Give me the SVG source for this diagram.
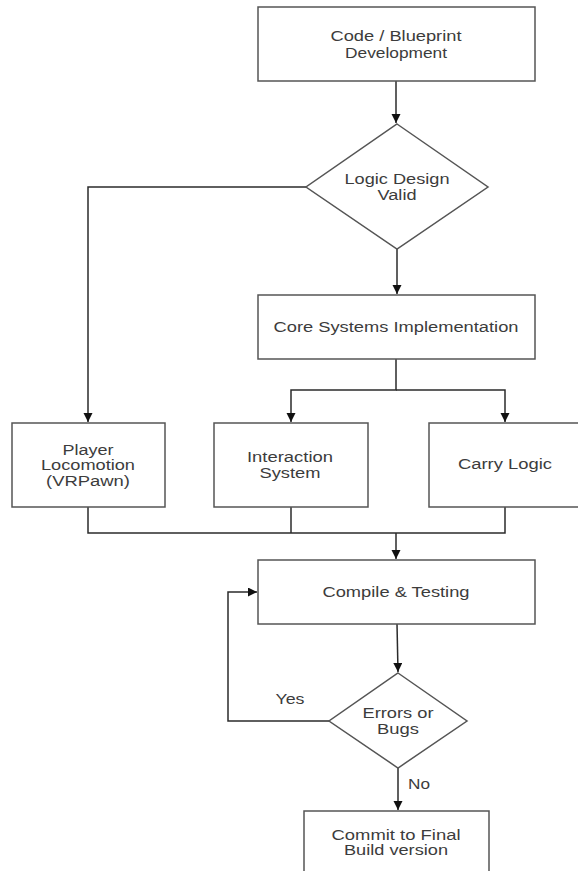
<svg xmlns="http://www.w3.org/2000/svg" width="578" height="871" viewBox="0 0 578 871">
<style>
.box{fill:#fff;stroke:#555;stroke-width:1.5}
.conn{fill:none;stroke:#2b2b2b;stroke-width:1.5}
.t{font-family:"Liberation Sans",Arial,sans-serif;font-size:14px;fill:#3c3c3c;text-anchor:middle;lengthAdjust:spacingAndGlyphs}
</style>
<defs>
<marker id="arr" markerUnits="userSpaceOnUse" markerWidth="10" markerHeight="10" refX="9" refY="4.5" orient="auto">
<path d="M0,0 L9,4.5 L0,9 z" fill="#111"/>
</marker>
</defs>
<rect width="578" height="871" fill="#fff"/>
<g id="connectors">
<path class="conn" d="M396,81 V123" marker-end="url(#arr)"/>
<path class="conn" d="M306,187 H88 V422" marker-end="url(#arr)"/>
<path class="conn" d="M397,249 V294" marker-end="url(#arr)"/>
<path class="conn" d="M396,359 V390 H291 V422" marker-end="url(#arr)"/>
<path class="conn" d="M396,390 H505 V422" marker-end="url(#arr)"/>
<path class="conn" d="M88,507 V533 H505 V507"/>
<path class="conn" d="M291,507 V533"/>
<path class="conn" d="M396,533 V559" marker-end="url(#arr)"/>
<path class="conn" d="M397,624 L398,672" marker-end="url(#arr)"/>
<path class="conn" d="M329,721 H228 V592 H257" marker-end="url(#arr)"/>
<path class="conn" d="M398,768 V810" marker-end="url(#arr)"/>
</g>
<g id="code-dev">
<rect class="box" x="258" y="7" width="277" height="74"/>
<text class="t" x="396" y="41" textLength="131" lengthAdjust="spacingAndGlyphs">Code / Blueprint</text>
<text class="t" x="396" y="58" textLength="102" lengthAdjust="spacingAndGlyphs">Development</text>
</g>
<g id="logic-valid">
<polygon class="box" points="397,124 488,187 397,249 306,187"/>
<text class="t" x="397" y="184" textLength="105" lengthAdjust="spacingAndGlyphs">Logic Design</text>
<text class="t" x="397" y="200" textLength="39" lengthAdjust="spacingAndGlyphs">Valid</text>
</g>
<g id="core-systems">
<rect class="box" x="258" y="295" width="277" height="64"/>
<text class="t" x="396" y="332" textLength="245" lengthAdjust="spacingAndGlyphs">Core Systems Implementation</text>
</g>
<g id="player-locomotion">
<rect class="box" x="12" y="423" width="153" height="84"/>
<text class="t" x="88" y="455" textLength="51" lengthAdjust="spacingAndGlyphs">Player</text>
<text class="t" x="88" y="470" textLength="94" lengthAdjust="spacingAndGlyphs">Locomotion</text>
<text class="t" x="88" y="486" textLength="84" lengthAdjust="spacingAndGlyphs">(VRPawn)</text>
</g>
<g id="interaction-system">
<rect class="box" x="214" y="423" width="154" height="84"/>
<text class="t" x="290" y="462" textLength="86" lengthAdjust="spacingAndGlyphs">Interaction</text>
<text class="t" x="290" y="478" textLength="61" lengthAdjust="spacingAndGlyphs">System</text>
</g>
<g id="carry-logic">
<rect class="box" x="429" y="423" width="165" height="84"/>
<text class="t" x="505" y="469" textLength="94" lengthAdjust="spacingAndGlyphs">Carry Logic</text>
</g>
<g id="compile-testing">
<rect class="box" x="258" y="560" width="277" height="64"/>
<text class="t" x="396" y="597" textLength="147" lengthAdjust="spacingAndGlyphs">Compile &amp; Testing</text>
</g>
<g id="errors-bugs">
<polygon class="box" points="398,673 467,721 398,768 329,721"/>
<text class="t" x="398" y="718" textLength="71" lengthAdjust="spacingAndGlyphs">Errors or</text>
<text class="t" x="398" y="734" textLength="42" lengthAdjust="spacingAndGlyphs">Bugs</text>
</g>
<g id="labels">
<text class="t" x="290" y="704" textLength="29" lengthAdjust="spacingAndGlyphs">Yes</text>
<text class="t" x="419" y="789" textLength="22" lengthAdjust="spacingAndGlyphs">No</text>
</g>
<g id="commit-final">
<rect class="box" x="304" y="811" width="185" height="80"/>
<text class="t" x="396" y="840" textLength="129" lengthAdjust="spacingAndGlyphs">Commit to Final</text>
<text class="t" x="396" y="855" textLength="104" lengthAdjust="spacingAndGlyphs">Build version</text>
</g>
</svg>
